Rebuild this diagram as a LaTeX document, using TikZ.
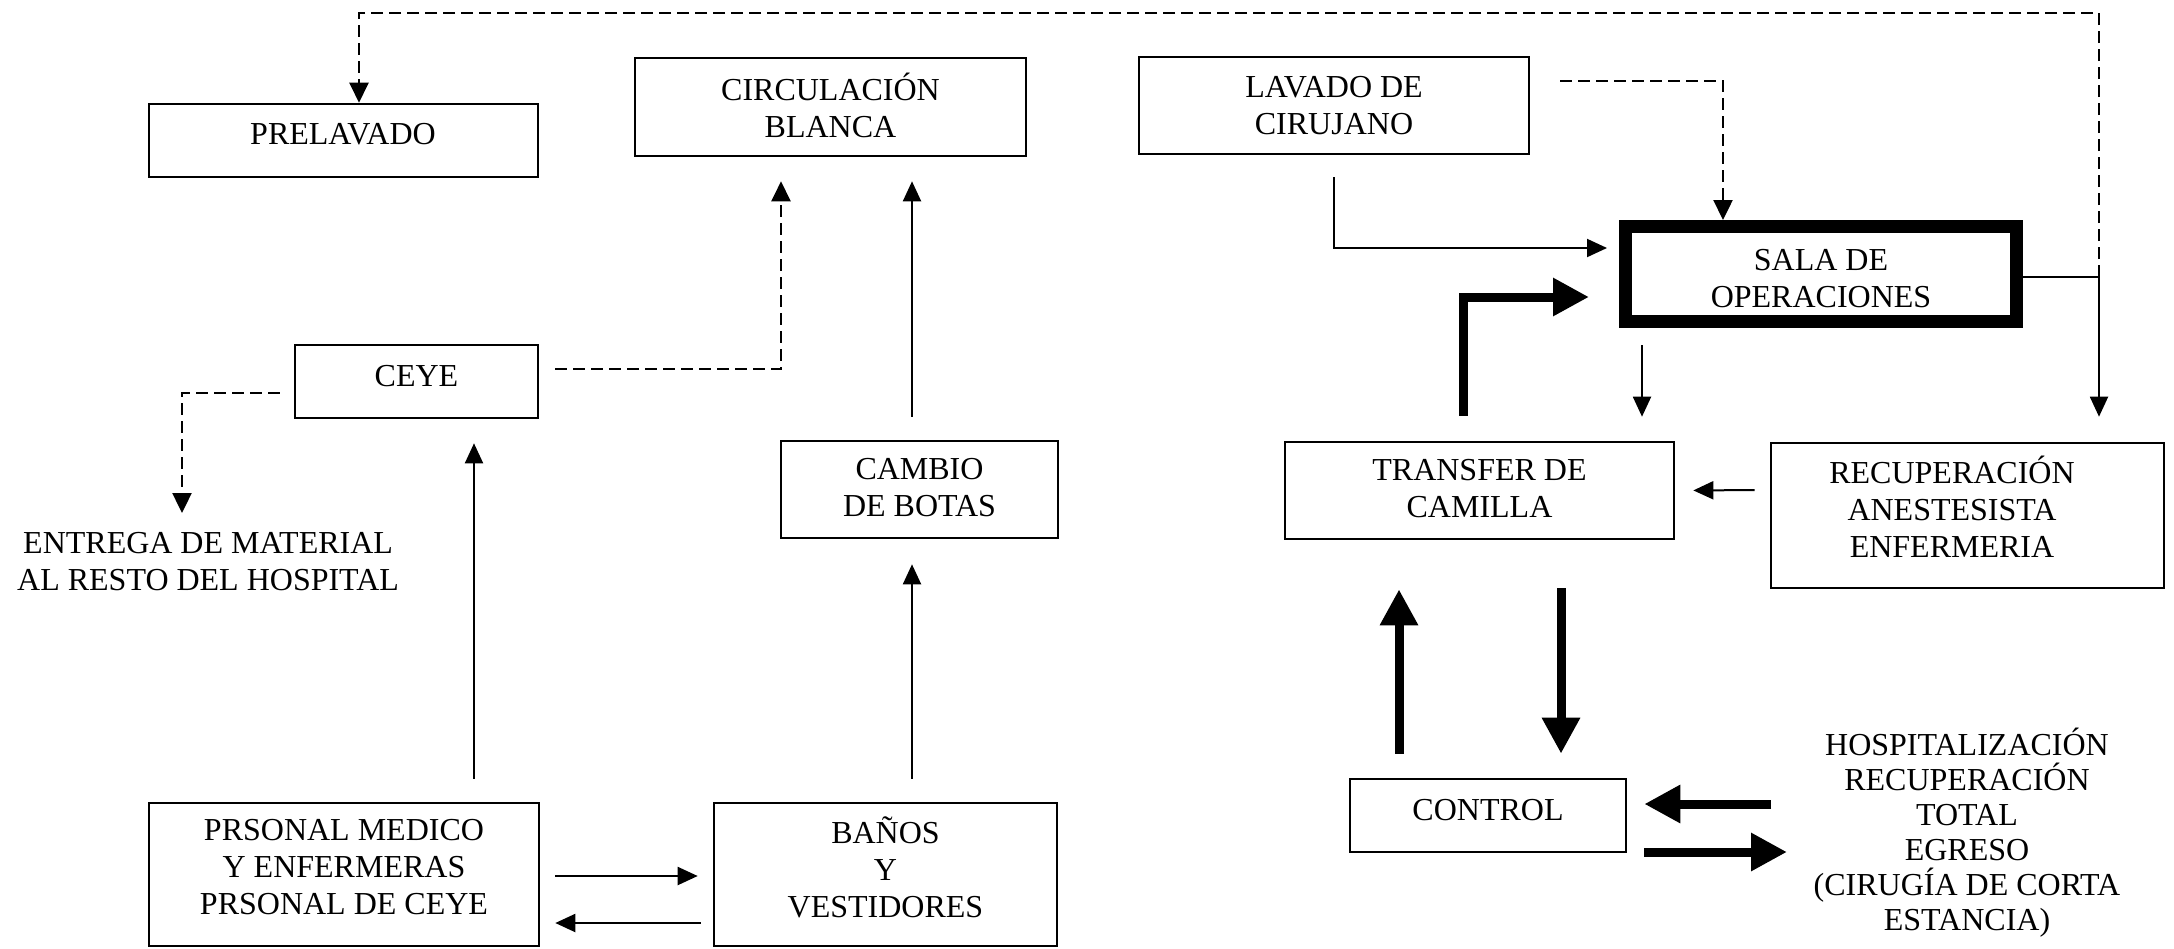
\documentclass[tikz,border=0pt]{standalone}
\usepackage{fontspec}
\setmainfont{Liberation Serif}
\usetikzlibrary{arrows.meta,calc}
\begin{document}
\begin{tikzpicture}[x=1pt,y=-1pt,
  box/.style={draw, line width=2.6pt, inner sep=0pt},
  txt/.style={inner sep=0pt, align=center, font=\fontsize{32}{37}\selectfont},
  arr/.style={line width=2pt, -{Triangle[length=20pt,width=18pt]}},
  dsh/.style={line width=2.4pt, dash pattern=on 12pt off 6pt, -{Triangle[length=20pt,width=19pt]}},
  thk/.style={line width=9pt, -{Triangle[length=36pt,width=36pt]}}]
\path[use as bounding box] (0,0) rectangle (2174,948);

% boxes
\node[box, minimum width=389pt, minimum height=73pt] (pre) at (343.5,140.5) {};
\node[txt] (pre-t) at (343,134.5) {PRELAVADO};
\node[box, minimum width=391pt, minimum height=98pt] (circ) at (830.5,107) {};
\node[txt] (circ-t) at (830.5,105) {CIRCULACIÓN\\BLANCA};
\node[box, minimum width=390pt, minimum height=97pt] (lav) at (1334,105.5) {};
\node[txt] (lav-t) at (1334,106) {LAVADO DE\\CIRUJANO};
\node[box, minimum width=243pt, minimum height=73pt] (ceye) at (416.5,381.5) {};
\node[txt] (ceye-t) at (416.5,376) {CEYE};
\node[box, minimum width=277pt, minimum height=97pt] (bot) at (919.5,489.5) {};
\node[txt] (bot-t) at (919.5,487.5) {CAMBIO\\DE BOTAS};
\node[box, minimum width=389pt, minimum height=97pt] (tra) at (1479.5,490.5) {};
\node[txt] (tra-t) at (1479.5,488.5) {TRANSFER DE\\CAMILLA};
\node[box, minimum width=393pt, minimum height=145pt] (rec) at (1967.5,515.5) {};
\node[txt] (rec-t) at (1952,507) {RECUPERACIÓN\\ANESTESISTA\\ENFERMERIA};
\node[box, minimum width=276pt, minimum height=73pt] (ctl) at (1488,815.5) {};
\node[txt] (ctl-t) at (1488,810) {CONTROL};
\node[box, minimum width=390pt, minimum height=143pt] (per) at (344,874.5) {};
\node[txt] (per-t) at (344,867.5) {PRSONAL MEDICO\\Y ENFERMERAS\\PRSONAL DE CEYE};
\node[box, minimum width=343pt, minimum height=143pt] (ban) at (885.5,874.5) {};
\node[txt] (ban-t) at (885.5,867) {BAÑOS\\Y\\VESTIDORES};

% operating room: heavy frame, lower line cut off by the frame
\begin{scope}
  \clip (1600,200) rectangle (2050,307);
  \node[txt] (sala-t) at (1821,278.5) {SALA DE\\OPERACIONES};
\end{scope}
\node[draw, line width=13pt, inner sep=0pt, minimum width=391pt, minimum height=95pt] (sala) at (1821,274) {};

% free texts
\node[txt, anchor=west] (ent) at (17,561.5) {ENTREGA DE MATERIAL\\AL RESTO DEL HOSPITAL};
\node[txt, font=\fontsize{32}{35}\selectfont] (hos) at (1967,832.5) {HOSPITALIZACIÓN\\RECUPERACIÓN\\TOTAL\\EGRESO\\(CIRUGÍA DE CORTA\\ESTANCIA)};

% helper points
\coordinate (jn) at (2099,277);
\coordinate (tl) at (359,13);
\coordinate (ld) at (1560,81);
\coordinate (entin) at (182,513);
\coordinate (hl) at (1771,804);
\coordinate (hr) at (1787,852);

% sterile loop from the operating room
\draw[line width=2pt] ([yshift=-3pt]sala.east) -- (jn);
\draw[arr, shorten >=25pt] (jn) -- (jn |- rec.north);
\draw[dsh] (jn) |- (tl) -- (tl |- pre.north);

% surgeon scrub
\draw[dsh] (ld) -| ([xshift=-98pt]sala.north);
\draw[arr, shorten <=22pt, shorten >=12pt] (lav.south) |- ([yshift=26pt]sala.west);

% patient flow
\draw[thk, shorten <=25pt, shorten >=30pt] ([xshift=-16.5pt]tra.north) |- ([yshift=-23pt]sala.west);
\draw[arr, shorten <=17pt, shorten >=24pt] ([xshift=-179pt]sala.south) -- ([xshift=162.5pt]tra.north);
\draw[arr, shorten <=15pt, shorten >=18pt] ([yshift=25.5pt]rec.west) -- (tra.east);
\draw[thk, shorten <=24pt, shorten >=49pt] ([xshift=-89pt]ctl.north) -- ([xshift=-80.5pt]tra.south);
\draw[thk, shorten <=48pt, shorten >=24pt] ([xshift=81.5pt]tra.south) -- ([xshift=73pt]ctl.north);
\draw[thk, shorten >=17pt] (hl) -- ([yshift=11.5pt]ctl.east);
\draw[thk, shorten <=17pt] ([yshift=-36.5pt]ctl.east) -- (hr);

% staff flow
\draw[arr, shorten <=23pt, shorten >=24pt] ([xshift=130pt]per.north) -- ([xshift=57.5pt]ceye.south);
\draw[arr, shorten <=23pt, shorten >=25pt] ([xshift=26.5pt]ban.north) -- ([xshift=-7.5pt]bot.south);
\draw[arr, shorten <=23pt, shorten >=24pt] ([xshift=-7.5pt]bot.north) -- ([xshift=81.5pt]circ.south);
\draw[arr, shorten <=15pt, shorten >=15pt] ([yshift=-1.5pt]per.east) -- ([yshift=-1.5pt]ban.west);
\draw[arr, shorten <=12pt, shorten >=15pt] ([yshift=-48.5pt]ban.west) -- ([yshift=-48.5pt]per.east);

% material flow
\draw[dsh, shorten <=16pt, shorten >=24pt] ([yshift=12.5pt]ceye.east) -| ([xshift=-49.5pt]circ.south);
\draw[dsh, shorten <=14pt] ([yshift=-11.5pt]ceye.west) -| (entin);
\end{tikzpicture}
\end{document}
